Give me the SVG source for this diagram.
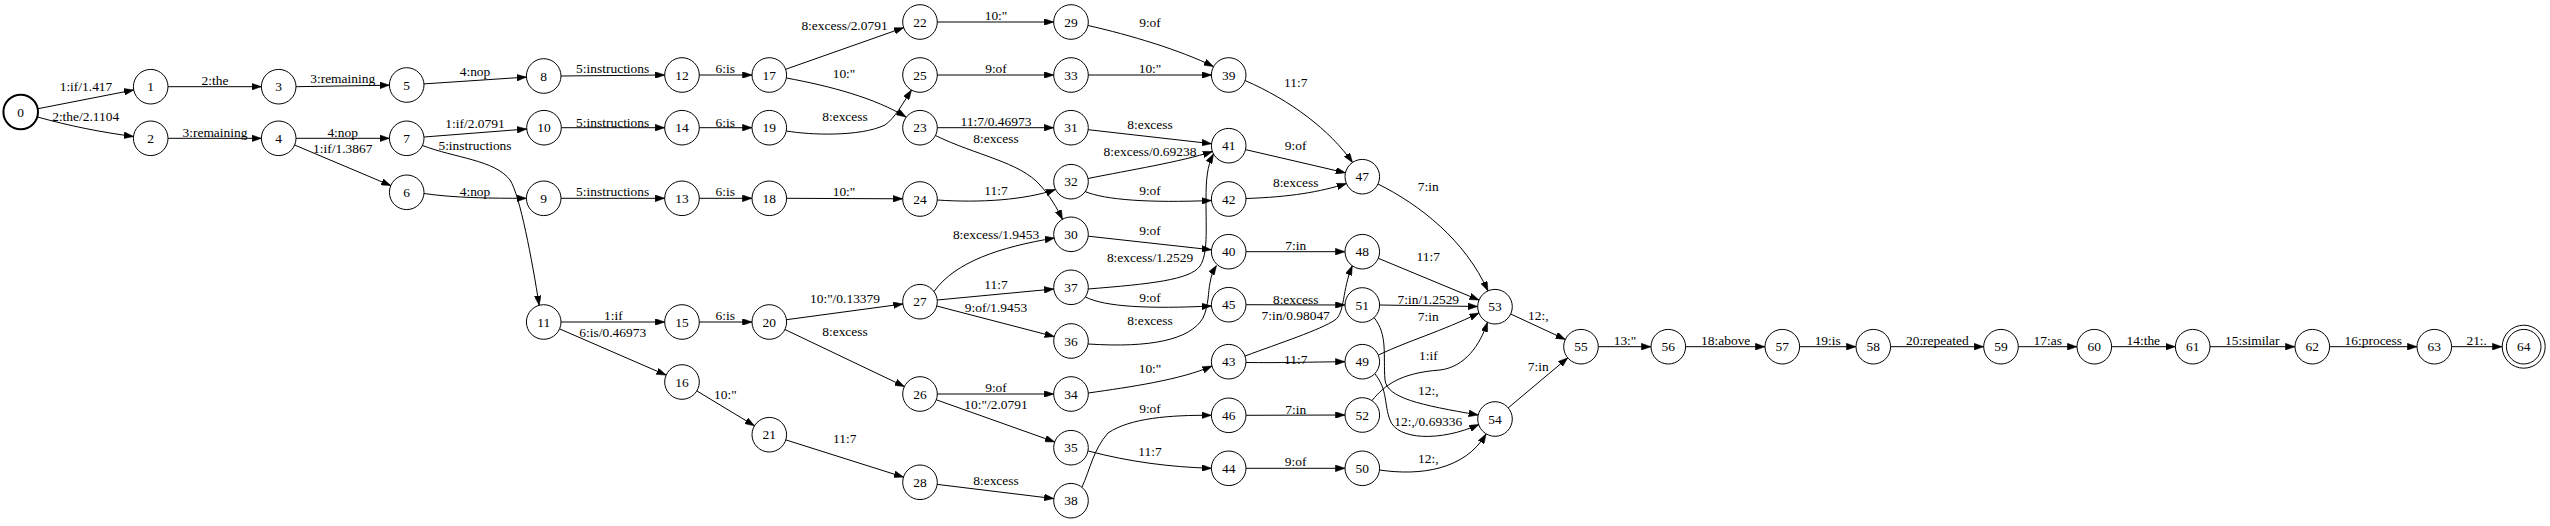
<svg xmlns="http://www.w3.org/2000/svg" width="2550" height="526" viewBox="0 0 2550 526">
<style>
.n circle{fill:none;stroke:#000;stroke-width:1}
.n text,.l text{font-family:"Liberation Serif","Times New Roman",serif;font-size:13.44px;text-anchor:middle;fill:#000}
.e path{fill:none;stroke:#000;stroke-width:1;marker-end:url(#arr)}
</style>
<defs>
<marker id="arr" viewBox="0 0 9.6 6.72" refX="9.6" refY="3.36" markerWidth="9.6" markerHeight="6.72" markerUnits="userSpaceOnUse" orient="auto"><path d="M0,0 L9.6,3.36 L0,6.72 z" fill="#000" stroke="#000" stroke-width="0.5"/></marker>
</defs>
<rect width="2550" height="526" fill="#fff"/>
<g id="edges" class="e">
<path d="M38,108.7 L133.7,90"/>
<path d="M37.5,117 C70,126 100,132 133.5,136.5"/>
<path d="M168,86.7 L261.4,86.7"/>
<path d="M296,86.7 L389.4,85.2"/>
<path d="M168,138.3 L261.4,138.3"/>
<path d="M296,138.3 L389.4,138.3"/>
<path d="M294.6,145 L390.8,185.6"/>
<path d="M424,83.9 L526.4,77.1"/>
<path d="M424,137 L526.7,129"/>
<path d="M422.5,145.5 C455,158 495,160 510,180 C520,195 532,260 539.2,305.3"/>
<path d="M424,193.5 C455,198 490,198.3 526.4,198.3"/>
<path d="M561,76 L664.7,75"/>
<path d="M561.3,127.7 L664.7,127.7"/>
<path d="M561,198.3 L664.7,198.3"/>
<path d="M699.3,75 L752,75"/>
<path d="M699.3,127.7 L752,127.7"/>
<path d="M699.3,198.3 L752,198.3"/>
<path d="M561,322 L664.7,322"/>
<path d="M699.3,322 L752,322"/>
<path d="M559.6,328.9 L666.1,375.1"/>
<path d="M696.8,390.9 L754.5,425.8"/>
<path d="M785.6,69.3 L903.7,27.7"/>
<path d="M786.4,78 C830,86 875,98 906,117"/>
<path d="M786.5,131 C810,135 860,137 885,125 C895,118 903,103 911.5,90"/>
<path d="M786.6,198.3 L902.7,198.8"/>
<path d="M786.4,319.7 L902.9,304"/>
<path d="M784.9,329.5 L904.4,386.5"/>
<path d="M785.8,439.9 L903.5,477.1"/>
<path d="M937.3,22 L1053.7,22"/>
<path d="M937.3,75 L1053.7,75"/>
<path d="M937.3,127.7 L1053.7,127.7"/>
<path d="M935.5,135.5 C975,155 1020,162 1040,185 C1050,196 1057,208 1062.5,219.5"/>
<path d="M937.3,200 C980,203 1025,200 1055.5,189.5"/>
<path d="M934,291.5 C955,262 1000,247 1054.5,238"/>
<path d="M937.2,300 L1053.8,289"/>
<path d="M936.7,306 L1054.3,336.6"/>
<path d="M937.3,394 L1053.7,394"/>
<path d="M936.3,399.8 L1054.7,441.9"/>
<path d="M937.2,484.4 L1053.8,498.6"/>
<path d="M1088,25.5 C1130,35 1180,50 1213.5,66.5"/>
<path d="M1088.3,75 L1211.4,75"/>
<path d="M1088.2,129.7 L1211.5,143.7"/>
<path d="M1088,178.5 C1130,170 1180,162 1212.5,151.5"/>
<path d="M1085,191.5 C1105,200 1150,203 1211.4,200.5"/>
<path d="M1088.2,236.2 L1211.5,249.8"/>
<path d="M1088,289 C1150,284 1190,280 1200,266 C1208,254 1206,230 1206,200 C1206,180 1207,166 1213.5,154"/>
<path d="M1085.5,297 C1105,307 1150,309 1211.4,306"/>
<path d="M1088,344 C1150,348 1190,340 1203,318 C1209,305 1208,292 1210,283 C1211,276 1213,271 1216.5,265.5"/>
<path d="M1088.3,393 C1130,387 1180,380 1212,366"/>
<path d="M1082,487 C1090,470 1093,450 1108,433 C1130,418 1170,415 1211.4,415.3"/>
<path d="M1088.3,451 C1130,462 1170,467 1211.4,468.3"/>
<path d="M1245,80.5 C1290,100 1330,130 1352.5,162.5"/>
<path d="M1245.5,149.6 L1345.4,172.8"/>
<path d="M1246,198.5 C1290,197 1320,192 1346.5,183.5"/>
<path d="M1246,251.7 L1345,251.7"/>
<path d="M1246,304.7 L1345,305"/>
<path d="M1245,356 C1280,343 1320,330 1335,320 C1345,313 1342,290 1352.3,265.8"/>
<path d="M1246,362.5 C1280,363 1310,362 1345,361.7"/>
<path d="M1246,415.3 L1345,415"/>
<path d="M1246,468.3 L1345,468.3"/>
<path d="M1378,184 C1420,205 1465,240 1488,291"/>
<path d="M1378.3,258.3 L1479,300.1"/>
<path d="M1379.6,305 L1477.7,306.5"/>
<path d="M1378.5,355 C1410,340 1440,332 1479,313"/>
<path d="M1372,400.5 C1385,385 1400,373 1440,370 C1465,367 1480,345 1487.5,322.3"/>
<path d="M1374,317.5 C1388,335 1383,355 1385,380 C1387,398 1420,405 1478.3,415"/>
<path d="M1375,374 C1388,390 1384,405 1390,420 C1397,440 1440,442 1479,424.5"/>
<path d="M1379.6,470 C1420,476 1465,470 1486,434"/>
<path d="M1510.7,314 L1565.3,339.4"/>
<path d="M1508.2,407.9 L1567.8,357.8"/>
<path d="M1598.3,346.7 L1651,346.7"/>
<path d="M1685.6,346.7 L1765,346.7"/>
<path d="M1799.6,346.7 L1856,346.7"/>
<path d="M1890.6,346.7 L1983.7,346.7"/>
<path d="M2018.3,346.7 L2077,346.7"/>
<path d="M2111.6,346.7 L2175.4,346.7"/>
<path d="M2210,346.7 L2295,346.7"/>
<path d="M2329.6,346.7 L2417,346.7"/>
<path d="M2451.6,346.7 L2502,346.7"/>
</g>
<g id="edge-labels" class="l">
<text x="86" y="90.5">1:if/1.417</text>
<text x="85.7" y="120.5">2:the/2.1104</text>
<text x="215" y="84.5">2:the</text>
<text x="342.7" y="82.8">3:remaining</text>
<text x="215" y="136.5">3:remaining</text>
<text x="342.7" y="136.5">4:nop</text>
<text x="342.7" y="153.2">1:if/1.3867</text>
<text x="475" y="75.8">4:nop</text>
<text x="475" y="127.5">1:if/2.0791</text>
<text x="475" y="150.2">5:instructions</text>
<text x="475" y="195.5">4:nop</text>
<text x="612.7" y="72.8">5:instructions</text>
<text x="612.7" y="126.8">5:instructions</text>
<text x="612.7" y="196.2">5:instructions</text>
<text x="725.3" y="72.8">6:is</text>
<text x="725.3" y="126.8">6:is</text>
<text x="725.3" y="196.2">6:is</text>
<text x="613.3" y="319.5">1:if</text>
<text x="612.7" y="336.8">6:is/0.46973</text>
<text x="725.3" y="319.5">6:is</text>
<text x="725.3" y="398.5">10:&quot;</text>
<text x="844.5" y="30">8:excess/2.0791</text>
<text x="844" y="77.8">10:&quot;</text>
<text x="845" y="121.2">8:excess</text>
<text x="844" y="196.2">10:&quot;</text>
<text x="845" y="302.8">10:&quot;/0.13379</text>
<text x="845" y="335.5">8:excess</text>
<text x="844.7" y="442.8">11:7</text>
<text x="996" y="19.5">10:&quot;</text>
<text x="996" y="72.8">9:of</text>
<text x="996" y="126.2">11:7/0.46973</text>
<text x="996" y="142.8">8:excess</text>
<text x="996" y="195.2">11:7</text>
<text x="996" y="238.8">8:excess/1.9453</text>
<text x="996" y="288.5">11:7</text>
<text x="996" y="311.8">9:of/1.9453</text>
<text x="996" y="392.2">9:of</text>
<text x="996" y="408.8">10:&quot;/2.0791</text>
<text x="996" y="484.5">8:excess</text>
<text x="1150" y="27.2">9:of</text>
<text x="1150" y="72.8">10:&quot;</text>
<text x="1150" y="128.5">8:excess</text>
<text x="1150" y="156.2">8:excess/0.69238</text>
<text x="1150" y="195.2">9:of</text>
<text x="1150" y="235.2">9:of</text>
<text x="1150" y="262.2">8:excess/1.2529</text>
<text x="1150" y="301.8">9:of</text>
<text x="1150" y="325.2">8:excess</text>
<text x="1150" y="372.8">10:&quot;</text>
<text x="1150" y="412.8">9:of</text>
<text x="1150" y="456.2">11:7</text>
<text x="1295.7" y="87.2">11:7</text>
<text x="1295.7" y="150.2">9:of</text>
<text x="1295.7" y="187.2">8:excess</text>
<text x="1295.7" y="249.5">7:in</text>
<text x="1295.7" y="303.5">8:excess</text>
<text x="1295.7" y="319.5">7:in/0.98047</text>
<text x="1295.7" y="363.8">11:7</text>
<text x="1295.7" y="413.5">7:in</text>
<text x="1295.7" y="466.2">9:of</text>
<text x="1428.3" y="191.2">7:in</text>
<text x="1428.3" y="260.5">11:7</text>
<text x="1428.3" y="303.5">7:in/1.2529</text>
<text x="1428.3" y="321.2">7:in</text>
<text x="1428.3" y="360.2">1:if</text>
<text x="1428.3" y="394.5">12:,</text>
<text x="1428.3" y="426.2">12:,/0.69336</text>
<text x="1428.3" y="462.8">12:,</text>
<text x="1538.3" y="320.2">12:,</text>
<text x="1538.3" y="371.2">7:in</text>
<text x="1625" y="344.5">13:&quot;</text>
<text x="1725.7" y="345">18:above</text>
<text x="1827.7" y="345">19:is</text>
<text x="1937.3" y="345">20:repeated</text>
<text x="2047.7" y="345">17:as</text>
<text x="2143.3" y="345">14:the</text>
<text x="2252.3" y="345">15:similar</text>
<text x="2373.3" y="345">16:process</text>
<text x="2476.7" y="345">21:.</text>
</g>
<g id="node0" class="n"><circle cx="20.7" cy="112" r="17.3" style="stroke-width:2"/><text x="20.7" y="116.6">0</text></g>
<g id="node1" class="n"><circle cx="150.7" cy="86.7" r="17.3"/><text x="150.7" y="91.3">1</text></g>
<g id="node2" class="n"><circle cx="150.7" cy="138.3" r="17.3"/><text x="150.7" y="142.9">2</text></g>
<g id="node3" class="n"><circle cx="278.7" cy="86.7" r="17.3"/><text x="278.7" y="91.3">3</text></g>
<g id="node4" class="n"><circle cx="278.7" cy="138.3" r="17.3"/><text x="278.7" y="142.9">4</text></g>
<g id="node5" class="n"><circle cx="406.7" cy="85" r="17.3"/><text x="406.7" y="89.6">5</text></g>
<g id="node6" class="n"><circle cx="406.7" cy="192.3" r="17.3"/><text x="406.7" y="196.9">6</text></g>
<g id="node7" class="n"><circle cx="406.7" cy="138.3" r="17.3"/><text x="406.7" y="142.9">7</text></g>
<g id="node8" class="n"><circle cx="543.7" cy="76" r="17.3"/><text x="543.7" y="80.6">8</text></g>
<g id="node9" class="n"><circle cx="543.7" cy="198.3" r="17.3"/><text x="543.7" y="202.9">9</text></g>
<g id="node10" class="n"><circle cx="544" cy="127.7" r="17.3"/><text x="544" y="132.3">10</text></g>
<g id="node11" class="n"><circle cx="543.7" cy="322" r="17.3"/><text x="543.7" y="326.6">11</text></g>
<g id="node12" class="n"><circle cx="682" cy="75" r="17.3"/><text x="682" y="79.6">12</text></g>
<g id="node13" class="n"><circle cx="682" cy="198.3" r="17.3"/><text x="682" y="202.9">13</text></g>
<g id="node14" class="n"><circle cx="682" cy="127.7" r="17.3"/><text x="682" y="132.3">14</text></g>
<g id="node15" class="n"><circle cx="682" cy="322" r="17.3"/><text x="682" y="326.6">15</text></g>
<g id="node16" class="n"><circle cx="682" cy="382" r="17.3"/><text x="682" y="386.6">16</text></g>
<g id="node17" class="n"><circle cx="769.3" cy="75" r="17.3"/><text x="769.3" y="79.6">17</text></g>
<g id="node18" class="n"><circle cx="769.3" cy="198.3" r="17.3"/><text x="769.3" y="202.9">18</text></g>
<g id="node19" class="n"><circle cx="769.3" cy="127.7" r="17.3"/><text x="769.3" y="132.3">19</text></g>
<g id="node20" class="n"><circle cx="769.3" cy="322" r="17.3"/><text x="769.3" y="326.6">20</text></g>
<g id="node21" class="n"><circle cx="769.3" cy="434.7" r="17.3"/><text x="769.3" y="439.3">21</text></g>
<g id="node22" class="n"><circle cx="920" cy="22" r="17.3"/><text x="920" y="26.6">22</text></g>
<g id="node23" class="n"><circle cx="920" cy="127.7" r="17.3"/><text x="920" y="132.3">23</text></g>
<g id="node24" class="n"><circle cx="920" cy="199" r="17.3"/><text x="920" y="203.6">24</text></g>
<g id="node25" class="n"><circle cx="920" cy="75" r="17.3"/><text x="920" y="79.6">25</text></g>
<g id="node26" class="n"><circle cx="920" cy="394" r="17.3"/><text x="920" y="398.6">26</text></g>
<g id="node27" class="n"><circle cx="920" cy="301.7" r="17.3"/><text x="920" y="306.3">27</text></g>
<g id="node28" class="n"><circle cx="920" cy="482.3" r="17.3"/><text x="920" y="486.9">28</text></g>
<g id="node29" class="n"><circle cx="1071" cy="22" r="17.3"/><text x="1071" y="26.6">29</text></g>
<g id="node30" class="n"><circle cx="1071" cy="234.3" r="17.3"/><text x="1071" y="238.9">30</text></g>
<g id="node31" class="n"><circle cx="1071" cy="127.7" r="17.3"/><text x="1071" y="132.3">31</text></g>
<g id="node32" class="n"><circle cx="1071" cy="181.7" r="17.3"/><text x="1071" y="186.3">32</text></g>
<g id="node33" class="n"><circle cx="1071" cy="75" r="17.3"/><text x="1071" y="79.6">33</text></g>
<g id="node34" class="n"><circle cx="1071" cy="394" r="17.3"/><text x="1071" y="398.6">34</text></g>
<g id="node35" class="n"><circle cx="1071" cy="447.7" r="17.3"/><text x="1071" y="452.3">35</text></g>
<g id="node36" class="n"><circle cx="1071" cy="341" r="17.3"/><text x="1071" y="345.6">36</text></g>
<g id="node37" class="n"><circle cx="1071" cy="287.3" r="17.3"/><text x="1071" y="291.9">37</text></g>
<g id="node38" class="n"><circle cx="1071" cy="500.7" r="17.3"/><text x="1071" y="505.3">38</text></g>
<g id="node39" class="n"><circle cx="1228.7" cy="75" r="17.3"/><text x="1228.7" y="79.6">39</text></g>
<g id="node40" class="n"><circle cx="1228.7" cy="251.7" r="17.3"/><text x="1228.7" y="256.3">40</text></g>
<g id="node41" class="n"><circle cx="1228.7" cy="145.7" r="17.3"/><text x="1228.7" y="150.3">41</text></g>
<g id="node42" class="n"><circle cx="1228.7" cy="199" r="17.3"/><text x="1228.7" y="203.6">42</text></g>
<g id="node43" class="n"><circle cx="1228.7" cy="361.7" r="17.3"/><text x="1228.7" y="366.3">43</text></g>
<g id="node44" class="n"><circle cx="1228.7" cy="468.3" r="17.3"/><text x="1228.7" y="472.9">44</text></g>
<g id="node45" class="n"><circle cx="1228.7" cy="304.7" r="17.3"/><text x="1228.7" y="309.3">45</text></g>
<g id="node46" class="n"><circle cx="1228.7" cy="415.3" r="17.3"/><text x="1228.7" y="419.9">46</text></g>
<g id="node47" class="n"><circle cx="1362.3" cy="176.7" r="17.3"/><text x="1362.3" y="181.3">47</text></g>
<g id="node48" class="n"><circle cx="1362.3" cy="251.7" r="17.3"/><text x="1362.3" y="256.3">48</text></g>
<g id="node49" class="n"><circle cx="1362.3" cy="361.7" r="17.3"/><text x="1362.3" y="366.3">49</text></g>
<g id="node50" class="n"><circle cx="1362.3" cy="468.3" r="17.3"/><text x="1362.3" y="472.9">50</text></g>
<g id="node51" class="n"><circle cx="1362.3" cy="305" r="17.3"/><text x="1362.3" y="309.6">51</text></g>
<g id="node52" class="n"><circle cx="1362.3" cy="415" r="17.3"/><text x="1362.3" y="419.6">52</text></g>
<g id="node53" class="n"><circle cx="1495" cy="306.7" r="17.3"/><text x="1495" y="311.3">53</text></g>
<g id="node54" class="n"><circle cx="1495" cy="419" r="17.3"/><text x="1495" y="423.6">54</text></g>
<g id="node55" class="n"><circle cx="1581" cy="346.7" r="17.3"/><text x="1581" y="351.3">55</text></g>
<g id="node56" class="n"><circle cx="1668.3" cy="346.7" r="17.3"/><text x="1668.3" y="351.3">56</text></g>
<g id="node57" class="n"><circle cx="1782.3" cy="346.7" r="17.3"/><text x="1782.3" y="351.3">57</text></g>
<g id="node58" class="n"><circle cx="1873.3" cy="346.7" r="17.3"/><text x="1873.3" y="351.3">58</text></g>
<g id="node59" class="n"><circle cx="2001" cy="346.7" r="17.3"/><text x="2001" y="351.3">59</text></g>
<g id="node60" class="n"><circle cx="2094.3" cy="346.7" r="17.3"/><text x="2094.3" y="351.3">60</text></g>
<g id="node61" class="n"><circle cx="2192.7" cy="346.7" r="17.3"/><text x="2192.7" y="351.3">61</text></g>
<g id="node62" class="n"><circle cx="2312.3" cy="346.7" r="17.3"/><text x="2312.3" y="351.3">62</text></g>
<g id="node63" class="n"><circle cx="2434.3" cy="346.7" r="17.3"/><text x="2434.3" y="351.3">63</text></g>
<g id="node64" class="n"><circle cx="2523.7" cy="346.7" r="17.3"/><circle cx="2523.7" cy="346.7" r="21.5"/><text x="2523.7" y="351.3">64</text></g>
</svg>
